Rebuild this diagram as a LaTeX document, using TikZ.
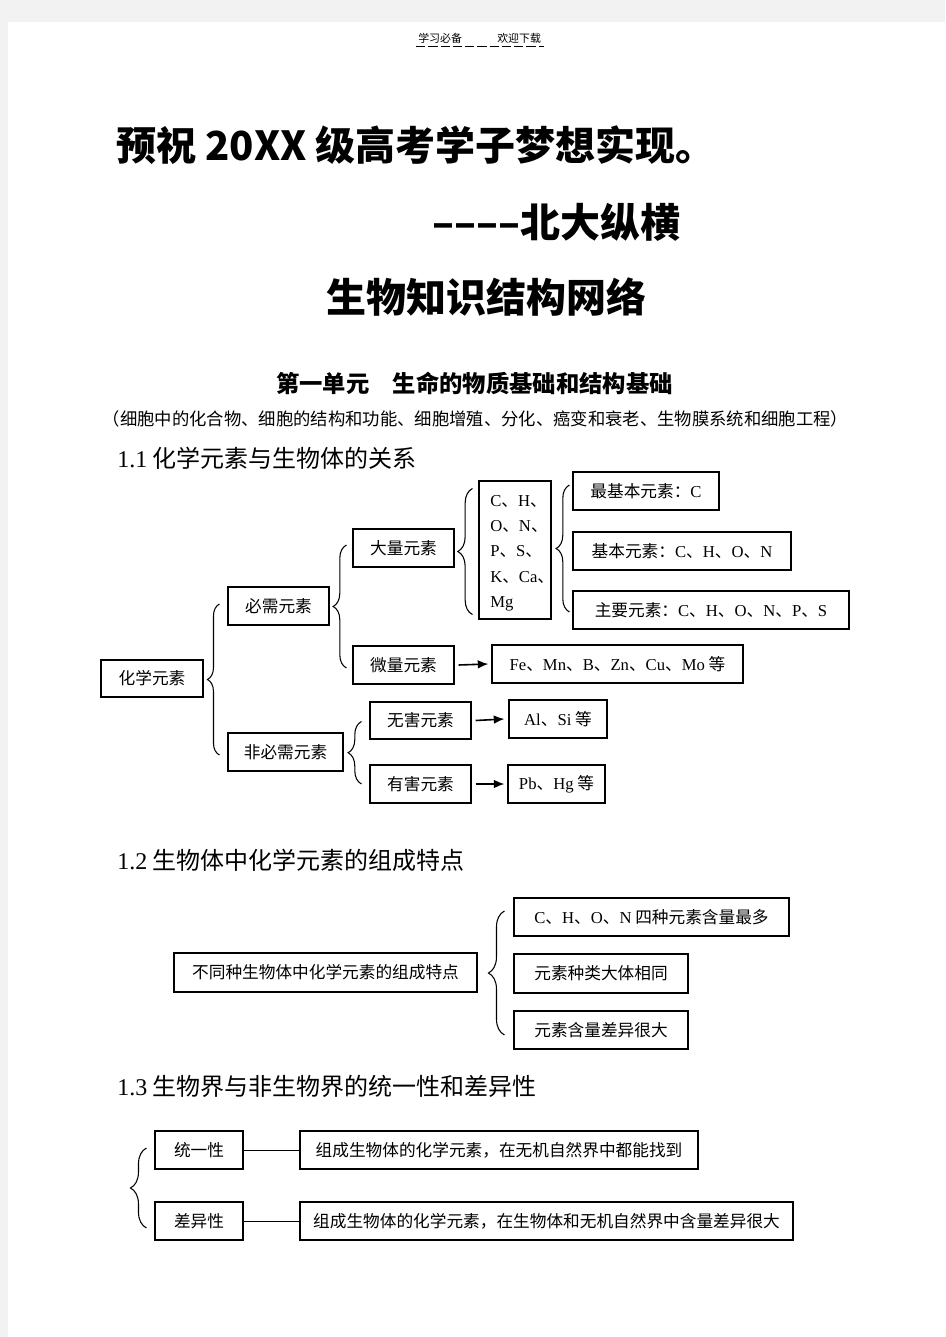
\documentclass[tikz,border=0pt]{standalone}
\usepackage{fontspec}
\setmainfont{Noto Sans CJK SC}
\newfontfamily\tm{Liberation Serif}
\usetikzlibrary{decorations.pathreplacing,calc,arrows.meta}
\definecolor{pagegray}{HTML}{F2F2F2}
\tikzset{
  bx/.style={draw, line width=0.8pt, inner sep=0pt, align=center, font=\fontsize{12.5}{15}\selectfont},
  brc/.style={decorate, line width=0.8pt, decoration={brace, amplitude=#1}},
  brc/.default=9pt,
  arr/.style={-{Latex[length=8pt,width=6.5pt]}, line width=1.2pt},
  lnk/.style={line width=0.6pt},
  head/.style={anchor=west, inner sep=0pt, font=\fontsize{18}{20}\selectfont},
}
\newcommand\bxx[6]{\node[bx, minimum width={(#4-#2)*0.75pt}, minimum height={(#5-#3)*0.75pt}] (#1) at ({(#2+#4)/2},{(#3+#5)/2}) {#6};}
\begin{document}
\begin{tikzpicture}[x=0.75pt,y=-0.75pt]
% page
\fill[pagegray] (0,0) rectangle (945,1337);
\fill[white] (8,22) rectangle (945,1337);
\useasboundingbox (0,0) rectangle (945,1337);

% header
\node[inner sep=0pt, anchor=west, font=\fontsize{8.2}{10}\selectfont] (h1) at (418,38) {学习必备};
\node[inner sep=0pt, anchor=west, font=\fontsize{8.2}{10}\selectfont] (h2) at (497,38) {欢迎下载};
\draw[line width=0.5pt, dash pattern=on 7pt off 2.2pt] (416,46) -- (544,46);

% titles
\node[anchor=west, inner sep=0pt, font=\fontsize{30}{34}\bfseries\selectfont] (t1) at (116,145) {预祝 20XX 级高考学子梦想实现。};
\node[anchor=west, inner sep=0pt, font=\fontsize{30}{34}\bfseries\selectfont] (t2) at (432,222) {––––北大纵横};
\node[anchor=west, inner sep=0pt, font=\fontsize{30}{34}\bfseries\selectfont] (t3) at (326,297) {生物知识结构网络};

\node[anchor=west, inner sep=0pt, font=\fontsize{17.5}{20}\bfseries\selectfont] (unit) at (276,383) {第一单元　生命的物质基础和结构基础};
\node[inner sep=0pt, font=\fontsize{13}{15}\selectfont] (sub) at (475.5,419) {（细胞中的化合物、细胞的结构和功能、细胞增殖、分化、癌变和衰老、生物膜系统和细胞工程）};

% 1.1
\node[head] (s11) at (117,458) {{\tm 1.1} 化学元素与生物体的关系};
\bxx{hx}{101}{660}{203}{697}{化学元素}
\bxx{bx1}{228}{587}{329}{625}{必需元素}
\bxx{fbx}{228}{733}{343}{771}{非必需元素}
\bxx{dl}{353}{529}{454}{567}{大量元素}
\bxx{wl}{353}{646}{454}{684}{微量元素}
\bxx{wh}{370}{702}{471}{739}{无害元素}
\bxx{yh}{370}{765}{471}{803}{有害元素}
\bxx{chon}{479}{481}{551}{619}{}
\node[anchor=north west, inner sep=0pt, align=left, font=\fontsize{12.5}{19}\selectfont] (chont) at (490,495)
  {{\tm C}、{\tm H}、\\{\tm O}、{\tm N}、\\{\tm P}、{\tm S}、\\{\tm K}、{\tm Ca}、\\{\tm Mg}};
\bxx{zjb}{573}{472}{719}{510}{最基本元素：{\tm C}}
\bxx{jb}{573}{532}{791}{570}{基本元素：{\tm C}、{\tm H}、{\tm O}、{\tm N}}
\bxx{zy}{573}{591}{849}{629}{主要元素：{\tm C}、{\tm H}、{\tm O}、{\tm N}、{\tm P}、{\tm S}}
\bxx{fe}{492}{645}{743}{683}{{\tm Fe}、{\tm Mn}、{\tm B}、{\tm Zn}、{\tm Cu}、{\tm Mo} 等}
\bxx{al}{509}{700}{607}{738}{{\tm Al}、{\tm Si} 等}
\bxx{pb}{508}{765}{605}{803}{{\tm Pb}、{\tm Hg} 等}

\draw[brc] ($(fbx.west)+(-8,3)$) -- ($(bx1.west)+(-8,-2)$);
\draw[brc=10pt] ($(wl.west)+(-6,3)$) -- ($(dl.west)+(-6,-3)$);
\draw[brc=11pt] ($(chon.south west)+(-6,-5)$) -- ($(chon.north west)+(-6,8)$);
\draw[brc=10pt] ($(zy.west)+(-3,2)$) -- ($(zjb.west)+(-3,-6)$);
\draw[brc=10pt] ($(yh.west)+(-8,0)$) -- ($(wh.west)+(-8,1)$);

\draw[arr] ($(wl.east)+(4,0)$) -- ($(fe.west)+(-3,0)$);
\draw[arr] ($(wh.east)+(4,0)$) -- ($(al.west)+(-4,0)$);
\draw[arr] ($(yh.east)+(4,0)$) -- ($(pb.west)+(-3,0)$);

% 1.2
\node[head] (s12) at (117,860) {{\tm 1.2} 生物体中化学元素的组成特点};
\bxx{bt}{174}{953}{477}{992}{不同种生物体中化学元素的组成特点}
\bxx{c1}{514}{898}{789}{936}{{\tm C}、{\tm H}、{\tm O}、{\tm N} 四种元素含量最多}
\bxx{c2}{514}{954}{688}{993}{元素种类大体相同}
\bxx{c3}{514}{1011}{688}{1049}{元素含量差异很大}
\draw[brc=12pt] ($(c3.west)+(-9,5)$) -- ($(c1.west)+(-9,-6)$);

% 1.3
\node[head] (s13) at (117,1086) {{\tm 1.3} 生物界与非生物界的统一性和差异性};
\bxx{ty}{155}{1131}{243}{1169}{统一性}
\bxx{cy}{155}{1202}{243}{1240}{差异性}
\bxx{ty2}{300}{1131}{698}{1169}{组成生物体的化学元素，在无机自然界中都能找到}
\bxx{cy2}{300}{1202}{793}{1240}{组成生物体的化学元素，在生物体和无机自然界中含量差异很大}
\draw[lnk] (ty.east) -- (ty2.west);
\draw[lnk] (cy.east) -- (cy2.west);
\draw[brc=12pt] ($(cy.west)+(-8,7)$) -- ($(ty.west)+(-8,-2)$);
\end{tikzpicture}
\end{document}
